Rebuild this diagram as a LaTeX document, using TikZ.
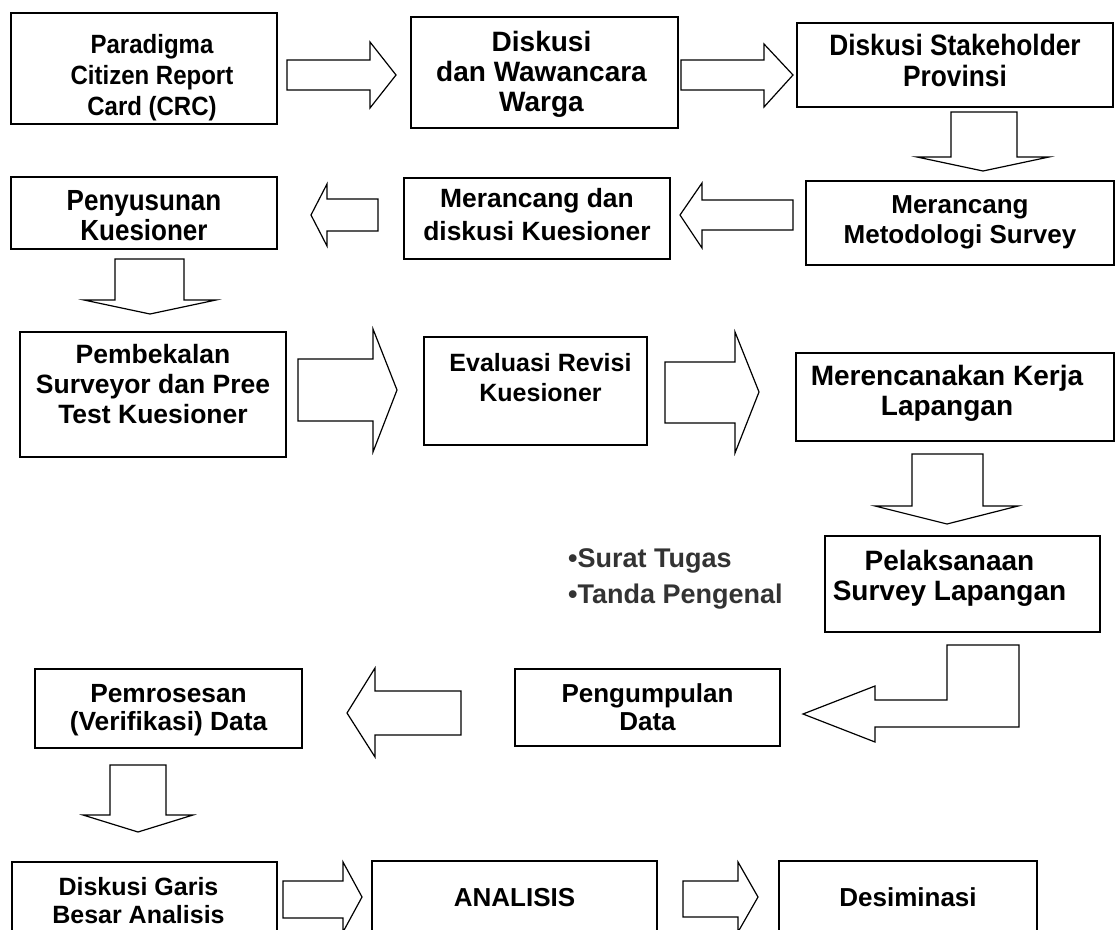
\documentclass[tikz,border=0pt]{standalone}
\usepackage{graphicx}
\usepackage{fontspec}
\setmainfont{Liberation Sans}
% #1 height, #2 width, #3 top gap, #4 twice horizontal shift, #5 font size, #6 line pitch (unscaled), #7 vertical text scale, #8 lines
\newcommand\bxt[8]{\parbox[c][#1pt][t]{#2pt}{\vspace*{#3pt}\centering\hspace*{#4pt}\fontsize{#5}{#6}\selectfont\bfseries\scalebox{1}[#7]{\begin{tabular}[t]{@{}c@{}}#8\end{tabular}}\par}}
\tikzset{
  stepbox/.style={draw=black, line width=1.6pt, inner sep=0pt, outer sep=0pt, anchor=north west},
  blockarrow/.style={draw=black, line width=1.2pt, line join=miter, fill=white},
  bullettext/.style={anchor=base west, inner sep=0pt, text=black!80, font=\fontsize{27}{30}\selectfont\bfseries}
}
\begin{document}
\begin{tikzpicture}[x=1pt, y=-1pt]
\useasboundingbox (0,0) rectangle (1116,929);
\clip (0,0) rectangle (1116,929);
\fill[white] (0,0) rectangle (1116,929);

% boxes
\node[stepbox] (A) at (11,13)  {\bxt{111}{266}{18.3}{16}{24}{28.2}{1.1}{Paradigma\\Citizen Report\\Card (CRC)}};
\node[stepbox] (B) at (411,17) {\bxt{111}{267}{13}{-6}{28}{30}{1}{Diskusi\\dan Wawancara\\Warga}};
\node[stepbox] (C) at (797,23) {\bxt{84}{316}{10.3}{0}{26.3}{27.7}{1.12}{Diskusi Stakeholder\\Provinsi}};
\node[stepbox] (D) at (806,181) {\bxt{84}{308}{11}{0}{26}{30}{1}{Merancang\\Metodologi Survey}};
\node[stepbox] (E) at (404,178) {\bxt{81}{266}{5.9}{0}{26.4}{33}{1}{Merancang dan\\diskusi Kuesioner}};
\node[stepbox] (F) at (11,177) {\bxt{72}{266}{12}{0}{26}{26.8}{1.12}{Penyusunan\\Kuesioner}};
\node[stepbox] (G) at (20,332) {\bxt{125}{266}{10}{0}{26.5}{30}{1}{Pembekalan\\Surveyor dan Pree\\Test Kuesioner}};
\node[stepbox] (H) at (424,337) {\bxt{108}{223}{13}{10}{25}{30}{1}{Evaluasi Revisi\\Kuesioner}};
\node[stepbox] (I) at (796,353) {\bxt{88}{318}{11}{-16}{28}{30}{1}{Merencanakan Kerja\\Lapangan}};
\node[stepbox] (J) at (825,536) {\bxt{96}{275}{13}{-26}{28}{30}{1}{Pelaksanaan\\Survey Lapangan}};
\node[stepbox] (L) at (515,669) {\bxt{77}{265}{13.4}{0}{26}{28}{1}{Pengumpulan\\Data}};
\node[stepbox] (K) at (35,669) {\bxt{79}{267}{13.4}{0}{26.3}{28}{1}{Pemrosesan\\(Verifikasi) Data}};
\node[stepbox] (M) at (12,862) {\bxt{100}{265}{13.4}{-12}{25}{28}{1}{Diskusi Garis\\Besar Analisis}};
\node[stepbox] (N) at (372,861) {\bxt{100}{285}{24}{0}{26}{30}{1}{ANALISIS}};
\node[stepbox] (O) at (779,861) {\bxt{100}{258}{24}{0}{26}{30}{1}{Desiminasi}};

% side notes
\node[bullettext] (n1) at (568,567) {•Surat Tugas};
\node[bullettext] (n2) at (568,603) {•Tanda Pengenal};

% block arrows
\draw[blockarrow] (287,60) -- (370,60) -- (370,42) -- (396,75) -- (370,108) -- (370,90) -- (287,90) -- cycle;
\draw[blockarrow] (681,60) -- (764,60) -- (764,44) -- (793,75) -- (764,107) -- (764,90) -- (681,90) -- cycle;
\draw[blockarrow] (951,112) -- (1017,112) -- (1017,157) -- (1049,157) -- (983,171) -- (917,157) -- (951,157) -- cycle;
\draw[blockarrow] (793,200) -- (702,200) -- (702,183) -- (680,215) -- (702,248) -- (702,230) -- (793,230) -- cycle;
\draw[blockarrow] (378,199) -- (327,199) -- (327,184) -- (311,215) -- (327,246) -- (327,231) -- (378,231) -- cycle;
\draw[blockarrow] (115,259) -- (184,259) -- (184,300) -- (216,300) -- (150,314) -- (84,300) -- (115,300) -- cycle;
\draw[blockarrow] (298,359) -- (373,359) -- (373,329) -- (397,390) -- (373,452) -- (373,421) -- (298,421) -- cycle;
\draw[blockarrow] (665,362) -- (735,362) -- (735,332) -- (759,392) -- (735,453) -- (735,423) -- (665,423) -- cycle;
\draw[blockarrow] (912,454) -- (983,454) -- (983,506) -- (1018,506) -- (947,524) -- (875,506) -- (912,506) -- cycle;
\draw[blockarrow] (947,645) -- (1019,645) -- (1019,727) -- (875,727) -- (875,742) -- (803,714) -- (875,686) -- (875,700) -- (947,700) -- cycle;
\draw[blockarrow] (461,691) -- (375,691) -- (375,668) -- (347,713) -- (375,757) -- (375,735) -- (461,735) -- cycle;
\draw[blockarrow] (110,765) -- (166,765) -- (166,815) -- (193,815) -- (138,832) -- (83,815) -- (110,815) -- cycle;
\draw[blockarrow] (283,881) -- (343,881) -- (343,862) -- (362,897) -- (343,932) -- (343,918) -- (283,918) -- cycle;
\draw[blockarrow] (683,881) -- (738,881) -- (738,862) -- (758,897) -- (738,932) -- (738,917) -- (683,917) -- cycle;
\end{tikzpicture}
\end{document}
